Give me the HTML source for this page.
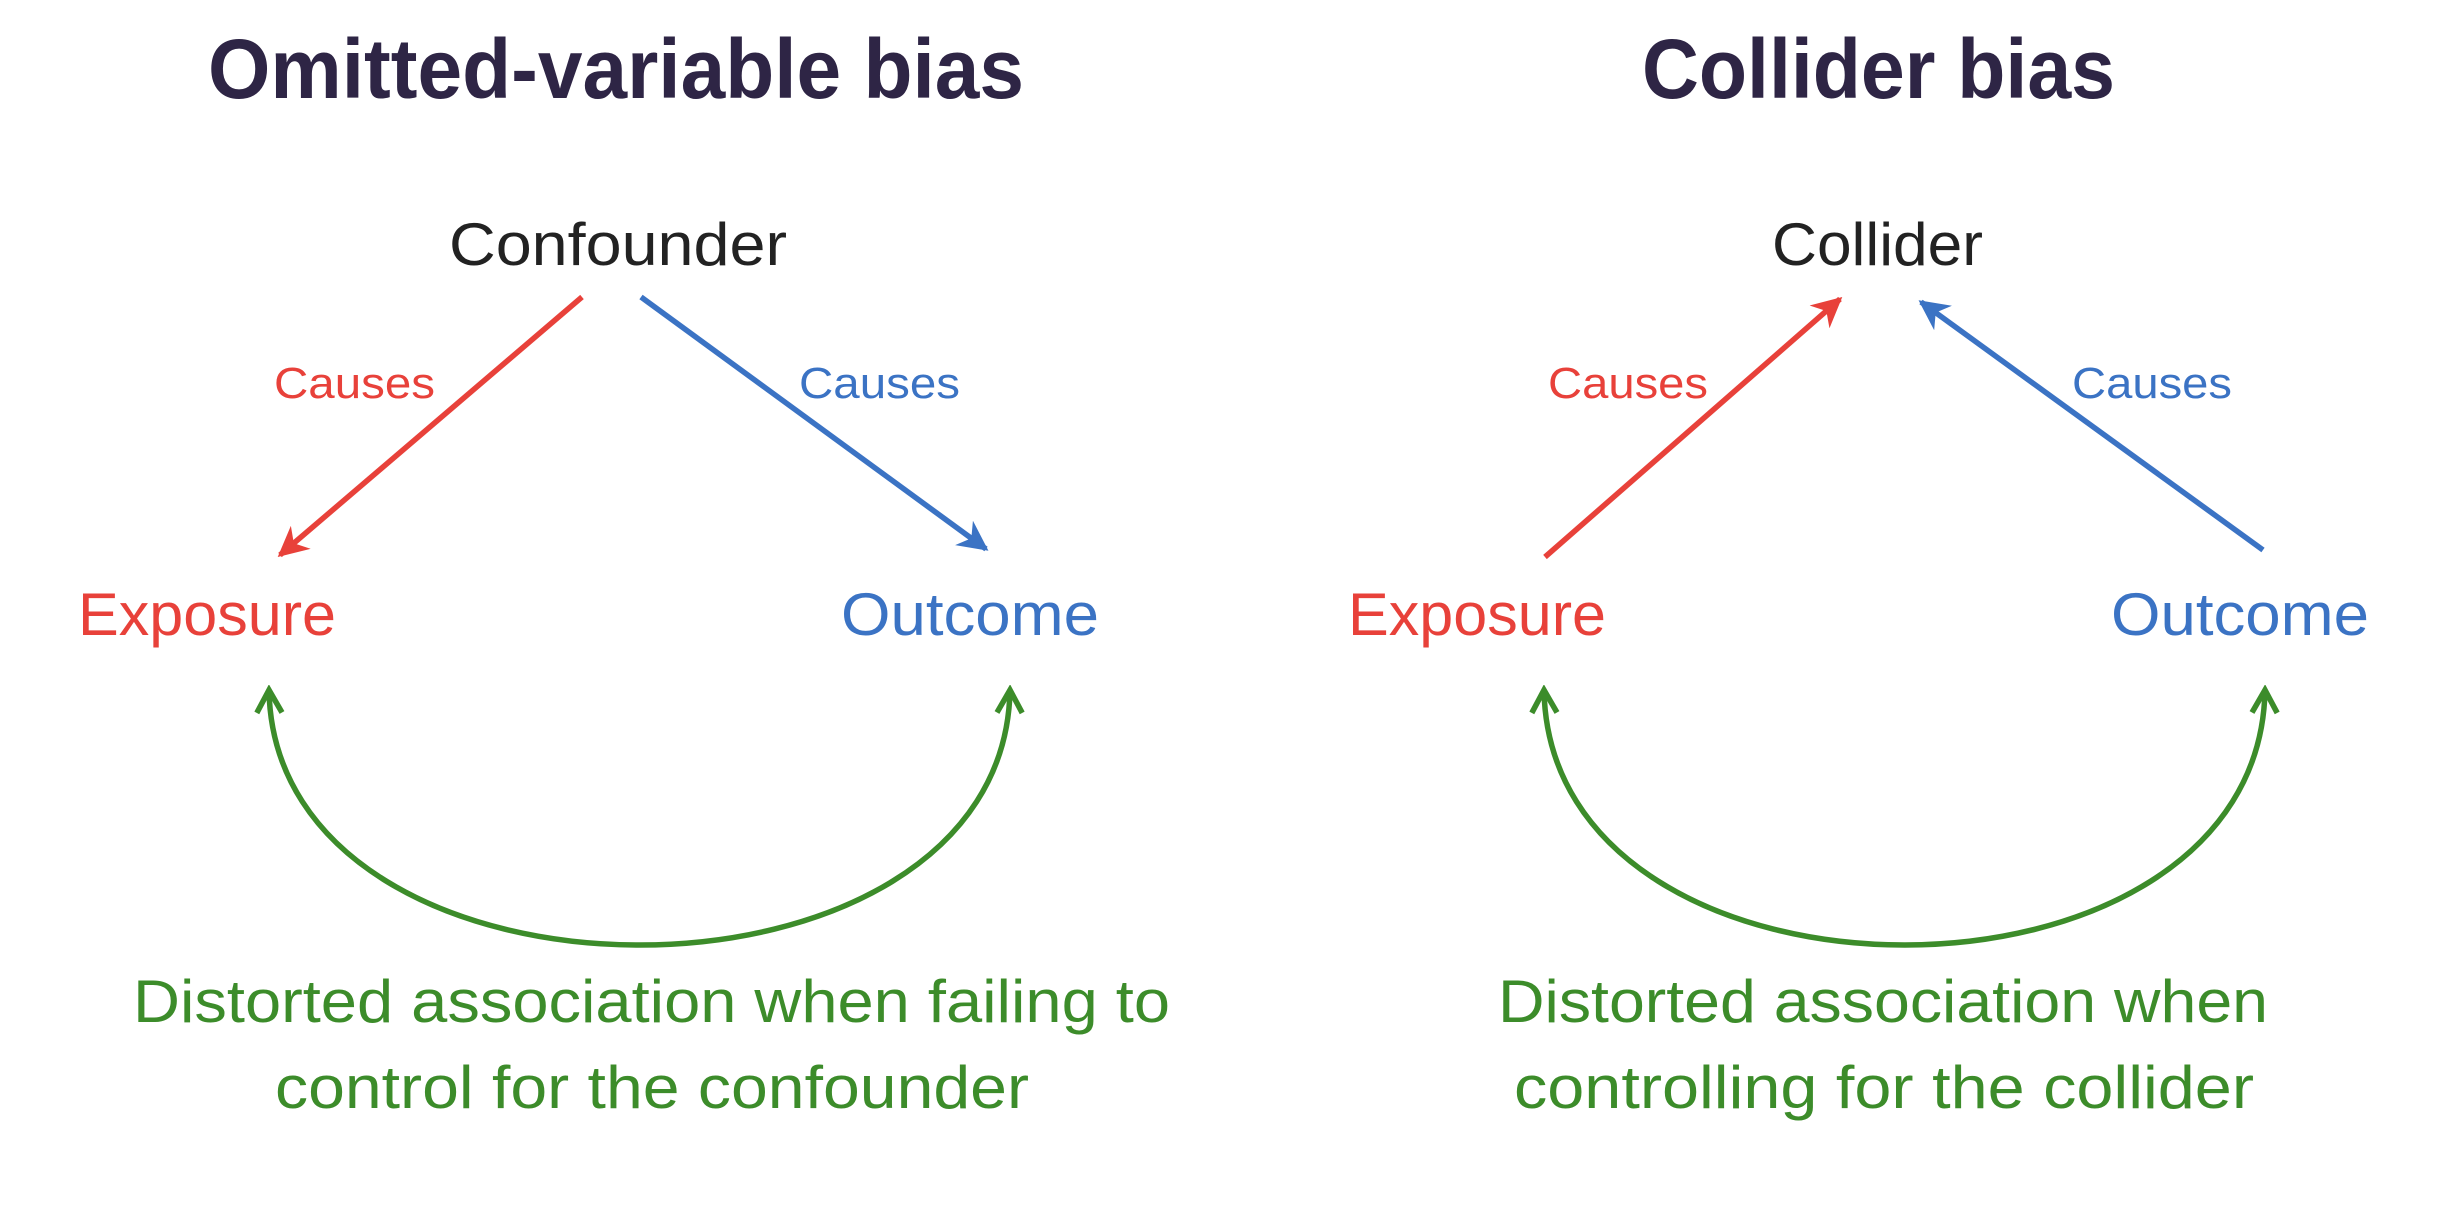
<!DOCTYPE html>
<html><head><style>
html,body{margin:0;padding:0;background:#fff;}
svg{display:block;}
</style></head><body>
<svg width="2452" height="1222" viewBox="0 0 2452 1222" xmlns="http://www.w3.org/2000/svg">
<defs>
<marker id="mr" viewBox="0 0 10 10" refX="9" refY="5" markerWidth="5.5" markerHeight="5.5" orient="auto"><path d="M0,0 L10,5 L0,10 L3,5 z" fill="#e8413a"/></marker>
<marker id="mb" viewBox="0 0 10 10" refX="9" refY="5" markerWidth="5.5" markerHeight="5.5" orient="auto"><path d="M0,0 L10,5 L0,10 L3,5 z" fill="#3b73c4"/></marker>
<marker id="mg" viewBox="0 0 12 12" refX="10" refY="6" markerWidth="5.5" markerHeight="5.5" orient="auto-start-reverse"><path d="M1,1 L10,6 L1,11" fill="none" stroke="#3c8c2a" stroke-width="2.2"/></marker>
</defs>
<rect width="2452" height="1222" fill="#fff"/>
<g font-family="Liberation Sans, sans-serif" font-weight="bold" font-size="84" fill="#2e2545">
<text x="208" y="98" textLength="816" lengthAdjust="spacingAndGlyphs">Omitted-variable bias</text>
<text x="1642" y="98" textLength="473" lengthAdjust="spacingAndGlyphs">Collider bias</text>
</g>
<g font-family="Liberation Sans, sans-serif" font-size="60">
<text x="449" y="265" fill="#222" textLength="338" lengthAdjust="spacingAndGlyphs">Confounder</text>
<text x="1772" y="265" fill="#222" textLength="211" lengthAdjust="spacingAndGlyphs">Collider</text>
<text x="78" y="635" fill="#e8413a" textLength="258" lengthAdjust="spacingAndGlyphs">Exposure</text>
<text x="841" y="635" fill="#3b73c4" textLength="258" lengthAdjust="spacingAndGlyphs">Outcome</text>
<text x="1348" y="635" fill="#e8413a" textLength="258" lengthAdjust="spacingAndGlyphs">Exposure</text>
<text x="2111" y="635" fill="#3b73c4" textLength="258" lengthAdjust="spacingAndGlyphs">Outcome</text>
<g fill="#3c8c2a">
<text x="133" y="1022" textLength="1037" lengthAdjust="spacingAndGlyphs">Distorted association when failing to</text>
<text x="275" y="1108" textLength="754" lengthAdjust="spacingAndGlyphs">control for the confounder</text>
<text x="1498" y="1022" textLength="770" lengthAdjust="spacingAndGlyphs">Distorted association when</text>
<text x="1514" y="1108" textLength="740" lengthAdjust="spacingAndGlyphs">controlling for the collider</text>
</g>
</g>
<g font-family="Liberation Sans, sans-serif" font-size="44">
<text x="274" y="398" fill="#e8413a" textLength="161" lengthAdjust="spacingAndGlyphs">Causes</text>
<text x="799" y="398" fill="#3b73c4" textLength="161" lengthAdjust="spacingAndGlyphs">Causes</text>
<text x="1548" y="398" fill="#e8413a" textLength="160" lengthAdjust="spacingAndGlyphs">Causes</text>
<text x="2072" y="398" fill="#3b73c4" textLength="160" lengthAdjust="spacingAndGlyphs">Causes</text>
</g>
<g stroke-width="5.5" fill="none">
<line x1="582" y1="297" x2="280" y2="555" stroke="#e8413a" marker-end="url(#mr)"/>
<line x1="641" y1="297" x2="986" y2="549" stroke="#3b73c4" marker-end="url(#mb)"/>
<line x1="1545" y1="557" x2="1840" y2="299" stroke="#e8413a" marker-end="url(#mr)"/>
<line x1="2263" y1="550" x2="1921" y2="302" stroke="#3b73c4" marker-end="url(#mb)"/>
<path d="M269,690 C275,1030 1004,1030 1010,690" stroke="#3c8c2a" marker-start="url(#mg)" marker-end="url(#mg)"/>
<path d="M1544,690 C1550,1030 2259,1030 2265,690" stroke="#3c8c2a" marker-start="url(#mg)" marker-end="url(#mg)"/>
</g>
</svg>
</body></html>
